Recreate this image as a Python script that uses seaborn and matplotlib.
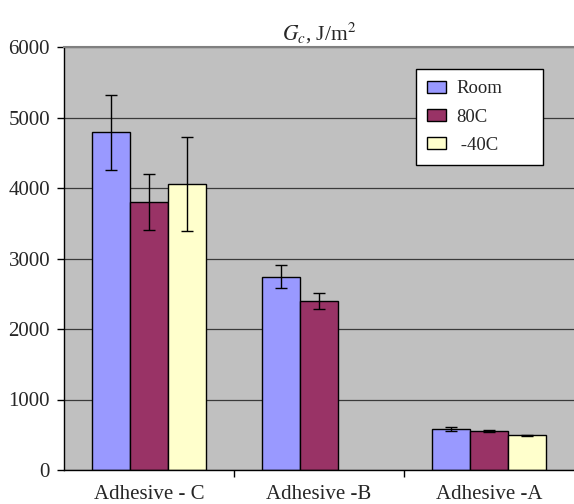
import matplotlib
matplotlib.use("Agg")
import matplotlib.pyplot as plt
import seaborn as sns
import pandas as pd
from matplotlib.patches import Patch

# ---- data ----
categories = ["Adhesive - C", "Adhesive -B", "Adhesive -A"]
conditions = ["Room", "80C", "-40C"]
room_vals = [4790, 2740, 578]
room_err = [530, 165, 30]
hot_vals = [3805, 2395, 552]
hot_err = [395, 110, 12]
cold_vals = [4060, None, 492]
cold_err = [670, None, 5]
colors = ["#9999FF", "#993366", "#FFFFCC"]
yticks = [0, 1000, 2000, 3000, 4000, 5000, 6000]

rows = []
for cond, vals, errs in [("Room", room_vals, room_err),
                         ("80C", hot_vals, hot_err),
                         ("-40C", cold_vals, cold_err)]:
    for cat, v, e in zip(categories, vals, errs):
        if v is not None:
            rows.append({"cat": cat, "cond": cond, "val": v, "err": e})
df = pd.DataFrame(rows)

sns.set_theme(style="white")
plt.rcParams["font.family"] = ["Liberation Serif", "DejaVu Serif"]
plt.rcParams["mathtext.fontset"] = "stix"

fig = plt.figure(figsize=(5.74, 5.04), dpi=100)
ax = fig.add_axes([64 / 574, 1 - 470 / 504, 1 - 64 / 574, (470 - 47) / 504])
ax.set_facecolor("#C0C0C0")

sns.barplot(data=df, x="cat", y="val", hue="cond", order=categories,
            hue_order=conditions, palette=colors, width=0.675,
            edgecolor="black", linewidth=1.0, errorbar=None, legend=False, ax=ax,
            saturation=1)

# error bars located from seaborn's bars
err_lookup = {(r.cond, categories.index(r.cat)): (r.val, r.err) for r in df.itertuples()}
for cond, cont in zip(conditions, ax.containers):
    for bar in cont:
        xc = bar.get_x() + bar.get_width() / 2
        ci = int(round(xc))
        if (cond, ci) in err_lookup:
            v, e = err_lookup[(cond, ci)]
            ax.errorbar(xc, v, yerr=e, fmt="none", ecolor="black",
                        elinewidth=1.0, capsize=4, capthick=1.0, zorder=5)

ax.set_ylim(0, 6000)
ax.set_xlim(-0.5, 2.5)
ax.set_yticks(yticks)
ax.set_yticklabels([str(t) for t in yticks], fontsize=15)
ax.yaxis.grid(True, color="#3a3a3a", linewidth=0.9)
ax.set_axisbelow(True)
ax.set_xlabel("")
ax.set_ylabel("")
ax.set_xticks([0, 1, 2])
ax.set_xticklabels(categories, fontsize=15)
ax.set_xticks([0.5, 1.5], minor=True)
ax.tick_params(axis="x", which="major", length=0, pad=11)
ax.tick_params(axis="x", which="minor", length=5, width=1, color="black", direction="out", bottom=True)
ax.tick_params(axis="y", length=5, width=1, color="black", direction="out", left=True, pad=5)

for s in ["left", "bottom"]:
    ax.spines[s].set_color("black")
    ax.spines[s].set_linewidth(1.0)
ax.spines["top"].set_color("#808080")
ax.spines["top"].set_linewidth(1.5)
ax.spines["right"].set_visible(False)

ax.set_title(r"$G_c$, J/m$^2$", fontsize=15.5, pad=5)

handles = [Patch(facecolor=c, edgecolor="black", linewidth=1.0) for c in colors]
labels = ["Room", "80C", " -40C"]
leg = fig.legend(handles, labels, loc="upper left",
                 bbox_to_anchor=(416 / 574, 1 - 162 / 504, 127 / 574, 93 / 504),
                 mode="expand", fontsize=13.5,
                 frameon=True, fancybox=False, edgecolor="black", framealpha=1,
                 handlelength=1.0, handleheight=0.6, labelspacing=0.6,
                 borderpad=0.6, handletextpad=0.55, borderaxespad=0)
leg.get_frame().set_linewidth(1.0)

fig.savefig("out.png", dpi=100)
